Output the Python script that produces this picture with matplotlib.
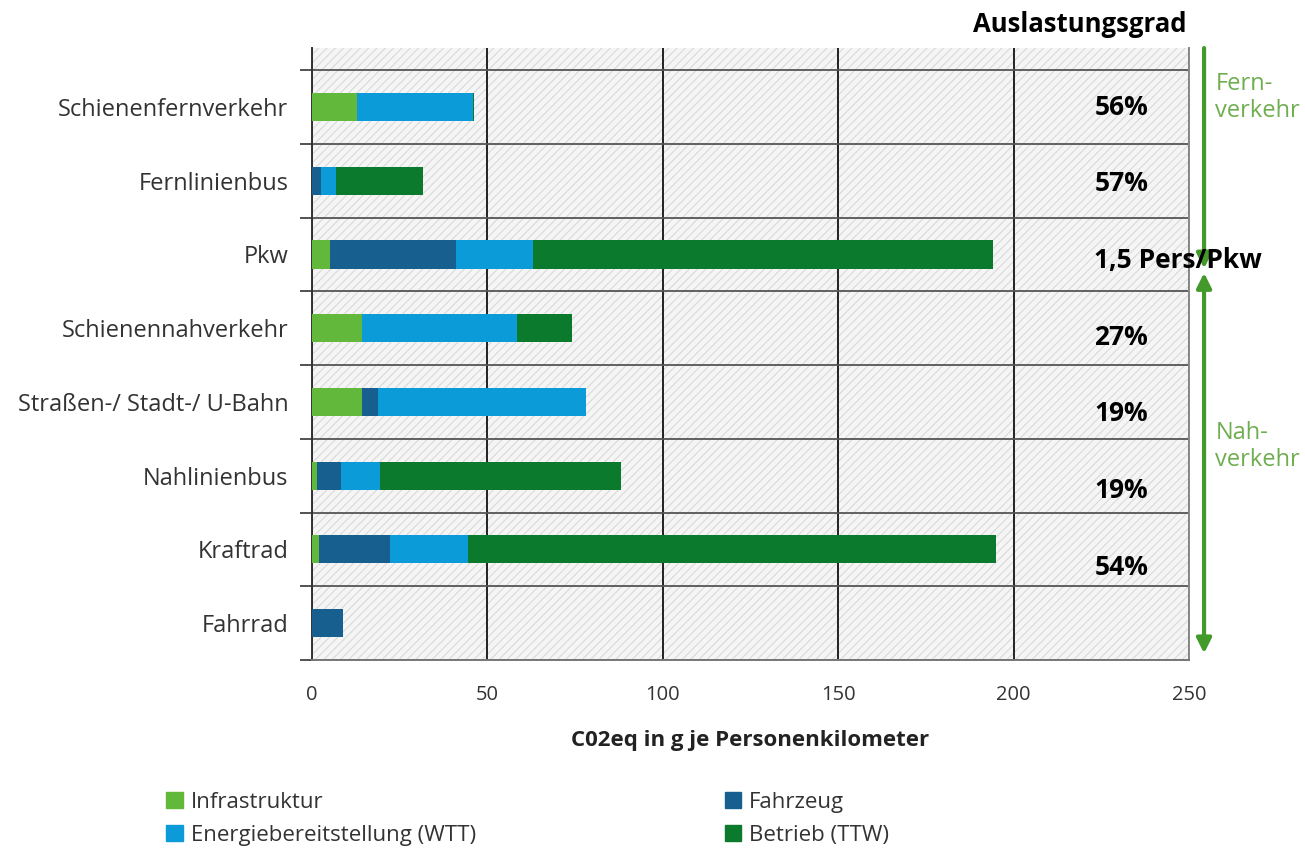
import matplotlib.pyplot as plt
from matplotlib.patches import Rectangle, Patch
import numpy as np

plt.rcParams['font.family'] = ['Open Sans', 'DejaVu Sans']
plt.rcParams['hatch.linewidth'] = 0.8

# Verkehrsmittel, von oben nach unten
modes = ['Schienenfernverkehr', 'Fernlinienbus', 'Pkw', 'Schienennahverkehr',
         'Straßen-/ Stadt-/ U-Bahn', 'Nahlinienbus', 'Kraftrad', 'Fahrrad']

# Emissionen in g CO2eq je Personenkilometer
infrastruktur = [12.8, 0.0, 5.0, 14.2, 14.2, 1.4, 2.0, 0.0]
fahrzeug = [0.0, 2.6, 36.0, 0.0, 4.6, 6.8, 20.2, 8.8]
wtt = [33.0, 4.3, 22.0, 44.2, 59.3, 11.1, 22.2, 0.0]
ttw = [0.4, 24.8, 131.0, 15.7, 0.0, 68.9, 150.7, 0.0]

auslastung = ['56%', '57%', '1,5 Pers/Pkw', '27%', '19%', '19%', '54%']

series = [
    ('Infrastruktur', infrastruktur, '#62b83a'),
    ('Fahrzeug', fahrzeug, '#175f8e'),
    ('Energiebereitstellung (WTT)', wtt, '#0a9bd8'),
    ('Betrieb (TTW)', ttw, '#0b7a2c'),
]

fig = plt.figure(figsize=(13.05, 8.49), dpi=100)
ax = fig.add_axes([0.2391, 0.2226, 0.672, 0.7208])

y = np.arange(len(modes))
left = np.zeros(len(modes))
for name, vals, col in series:
    ax.barh(y, vals, left=left, height=0.38, color=col, zorder=3)
    left += np.array(vals)

ax.set_xlim(0, 250)
ax.set_ylim(7.5, -0.8)

# schraffierter Hintergrund
ax.add_patch(Rectangle((0, 0), 1, 1, transform=ax.transAxes, facecolor='#f5f5f5',
                       edgecolor='#d9d9d9', hatch='////', lw=0, zorder=0))

ax.set_xticks([0, 50, 100, 150, 200, 250])
ax.set_yticks(y)
ax.set_yticklabels(modes)
ax.set_yticks(np.arange(-0.5, 8.0, 1.0), minor=True)
ax.tick_params(axis='y', which='major', length=0, pad=17, labelsize=17, labelcolor='#333333')
ax.tick_params(axis='y', which='minor', length=9, width=1.3, color='#444444')
ax.tick_params(axis='x', length=0, pad=18, labelsize=14.5, labelcolor='#333333')
ax.grid(axis='y', which='minor', color='#555555', lw=1.3, zorder=1)
ax.grid(axis='x', which='major', color='#222222', lw=1.4, zorder=1)

ax.spines['top'].set_visible(False)
ax.spines['left'].set_color('#333333')
ax.spines['left'].set_linewidth(1.4)
ax.spines['right'].set_color('#888888')
ax.spines['right'].set_linewidth(1.4)
ax.spines['bottom'].set_color('#777777')
ax.spines['bottom'].set_linewidth(1.4)

ax.set_xlabel('C02eq in g je Personenkilometer', fontsize=16, fontweight='bold',
              color='#222222', labelpad=18)

# Auslastungsgrad je Verkehrsmittel
for i, txt in enumerate(auslastung):
    ax.text(223, i * 1.04, txt, ha='left', va='center', fontsize=19,
            fontweight='bold', color='black', zorder=5, clip_on=False)
fig.text(973 / 1305, 1 - 25 / 849, 'Auslastungsgrad', ha='left', va='center',
         fontsize=18.5, fontweight='bold', color='black')

# Pfeile Fern-/Nahverkehr
green = '#439a2a'
ax.annotate('', xy=(254.3, 2.19), xytext=(254.3, -0.8), annotation_clip=False,
            arrowprops=dict(arrowstyle='-|>', color=green, lw=3,
                            mutation_scale=22, shrinkA=0, shrinkB=0))
ax.annotate('', xy=(254.3, 7.41), xytext=(254.3, 2.25), annotation_clip=False,
            arrowprops=dict(arrowstyle='<|-|>', color=green, lw=3,
                            mutation_scale=22, shrinkA=0, shrinkB=0))
ax.text(257.5, -0.13, 'Fern-\nverkehr', ha='left', va='center', fontsize=17,
        color='#6fae4f', linespacing=1.15, clip_on=False)
ax.text(257.5, 4.6, 'Nah-\nverkehr', ha='left', va='center', fontsize=17,
        color='#6fae4f', linespacing=1.15, clip_on=False)

handles = [Patch(color=c, label=n) for n, _, c in series]
order = [0, 2, 1, 3]
fig.legend([handles[k] for k in order], [series[k][0] for k in order],
           ncol=2, loc='upper left', bbox_to_anchor=(0.112, 0.091),
           frameon=False, fontsize=16, handlelength=0.75, handleheight=0.75,
           handletextpad=0.35, columnspacing=11.2, labelspacing=0.55,
           labelcolor='#333333')

fig.savefig('out.png', dpi=100)
